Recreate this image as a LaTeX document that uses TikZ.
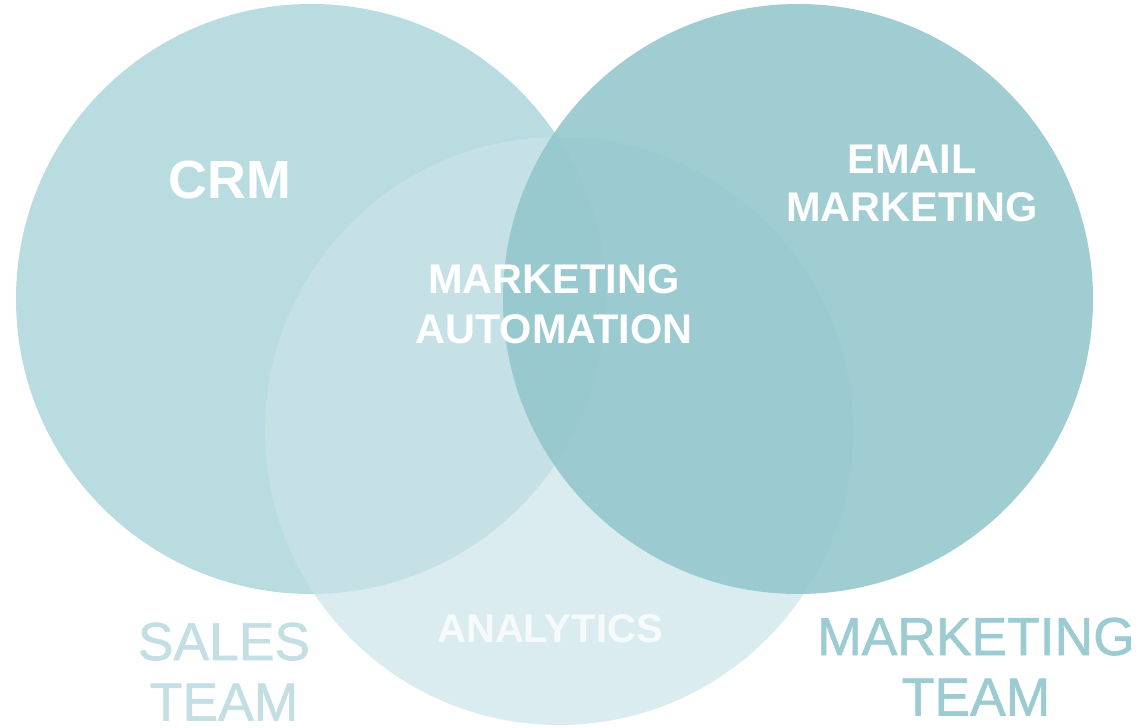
\documentclass[tikz,border=0pt]{standalone}
\usepackage{fontspec}
\setmainfont{Liberation Sans}
\newfontfamily\teamfont{Liberation Sans}[FakeBold=1.2]
\definecolor{crmfill}{RGB}{185,220,224}
\definecolor{anafill}{RGB}{203,228,233}
\definecolor{emailfill}{RGB}{146,198,204}
\definecolor{salescol}{RGB}{196,223,227}
\definecolor{mktcol}{RGB}{156,204,209}
\begin{document}
\begin{tikzpicture}[
  inner label/.style={anchor=north, inner sep=0, text=white, align=center, font=\bfseries\fontsize{11.8}{14.2}\selectfont},
  team label/.style={anchor=north, inner sep=0, align=center, font=\teamfont\fontsize{15.2}{17.2}\selectfont}]
\useasboundingbox (0,0) rectangle (11.46,7.27);
\fill[crmfill] (3.11,4.28) circle (2.95);
\fill[anafill, opacity=.71] (5.59,2.96) circle (2.94);
\fill[emailfill, opacity=.88] (7.98,4.28) circle (2.95);
\node[inner label, font=\bfseries\fontsize{15.3}{18}\selectfont] (crm) at (2.30,5.67) {CRM};
\node[inner label, font=\bfseries\fontsize{11.8}{13.7}\selectfont] (email) at (9.12,5.83) {EMAIL\\MARKETING};
\node[inner label] (auto) at (5.54,4.63) {MARKETING\\AUTOMATION};
\node[inner label, text opacity=.8, font=\bfseries\fontsize{11.4}{14}\selectfont] (ana) at (5.50,1.13) {ANALYTICS};
\node[team label, text=salescol] (sales) at (2.24,1.05) {SALES\\TEAM};
\node[team label, text=mktcol] (mkt) at (9.76,1.10) {MARKETING\\TEAM};
\end{tikzpicture}
\end{document}
